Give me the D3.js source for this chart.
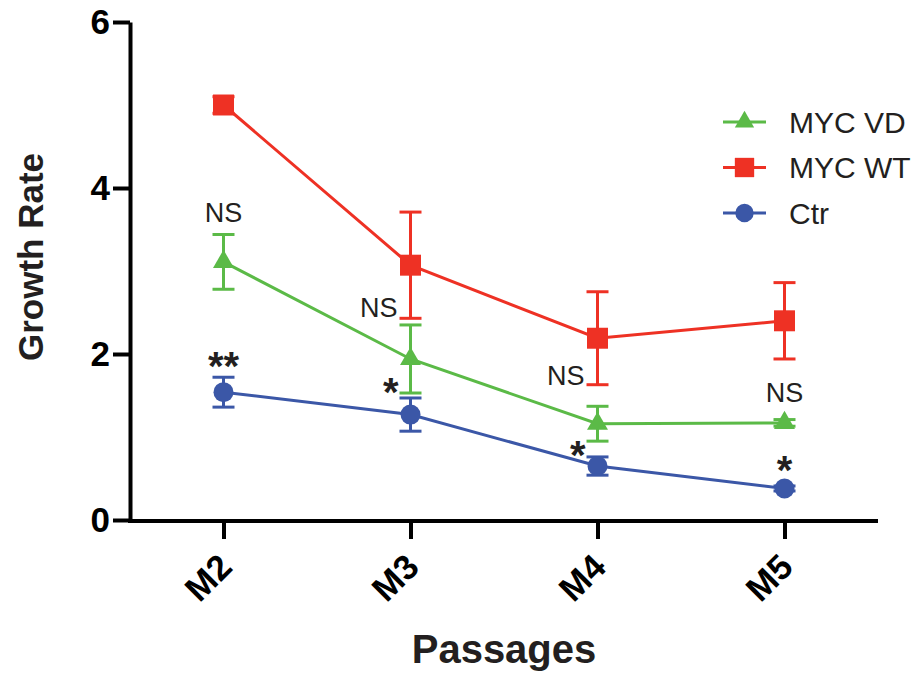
<!DOCTYPE html>
<html>
<head>
<meta charset="utf-8">
<script src="https://cdn.jsdelivr.net/npm/d3@7"></script>
<style>
  body { margin: 0; background: #fff; }
  svg text { font-family: "Liberation Sans", Arial, Helvetica, sans-serif; }
</style>
</head>
<body>
<div id="chart"></div>
<script>
const categories = ["M2", "M3", "M4", "M5"];

const seriesNames = ["MYC VD", "MYC WT", "Ctr"];
const vdMean  = [3.11, 1.94, 1.16, 1.17];
const vdErr   = [0.33, 0.41, 0.21, 0.04];
const wtMean  = [5.00, 3.07, 2.19, 2.40];
const wtErr   = [0.10, 0.64, 0.56, 0.46];
const ctrMean = [1.54, 1.27, 0.65, 0.38];
const ctrErr  = [0.18, 0.20, 0.11, 0.03];

const yTicks = [0, 2, 4, 6];

// significance marks: label, passage, height (data units), alignment to the passage
const annotLabels = ["NS", "**", "NS", "*", "NS", "*", "NS", "*"];
const annotCats   = ["M2", "M2", "M3", "M3", "M4", "M4", "M5", "M5"];
const annotValues = [3.59, 1.69, 2.45, 1.37, 1.63, 0.61, 1.42, 0.43];
const annotAlign  = ["middle", "middle", "end", "end", "end", "end", "middle", "middle"];

const width = 920, height = 675;
const colors = {"MYC VD": "#5bba47", "MYC WT": "#ee3124", "Ctr": "#3b57a7"};
const shapes = {"MYC VD": d3.symbolTriangle, "MYC WT": d3.symbolSquare, "Ctr": d3.symbolCircle};
const symSize = {"MYC VD": 190, "MYC WT": 440, "Ctr": 314};

const series = [
  {name: "Ctr", mean: ctrMean, err: ctrErr},
  {name: "MYC VD", mean: vdMean, err: vdErr},
  {name: "MYC WT", mean: wtMean, err: wtErr}
];

const svg = d3.select("#chart").append("svg")
    .attr("width", width)
    .attr("height", height);

const x = d3.scalePoint().domain(categories).range([130, 878]).padding(0.5);
const y = d3.scaleLinear().domain([0, 6]).range([520, 22]);

// axes
const yAxis = svg.append("g")
    .attr("transform", "translate(130,0)")
    .call(d3.axisLeft(y).tickValues(yTicks).tickFormat(d3.format("d"))
        .tickSize(17).tickSizeOuter(0).tickPadding(3));
yAxis.selectAll("path, line").attr("stroke", "#000").attr("stroke-width", 4);
yAxis.selectAll("text")
    .attr("fill", "#000")
    .style("font-size", "35px")
    .style("font-weight", "bold");

const xAxis = svg.append("g")
    .attr("transform", "translate(0,521)")
    .call(d3.axisBottom(x).tickSize(18).tickSizeOuter(0));
xAxis.select("path.domain").attr("d", "M128,0H878");
xAxis.selectAll("path, line").attr("stroke", "#000").attr("stroke-width", 4);
xAxis.selectAll("text")
    .attr("fill", "#000")
    .attr("y", 0).attr("dy", 0)
    .attr("text-anchor", "end")
    .attr("transform", "translate(10,48) rotate(-45)")
    .style("font-size", "35px")
    .style("font-weight", "bold");

// axis titles
svg.append("text")
    .attr("transform", "translate(43,257) rotate(-90)")
    .attr("text-anchor", "middle")
    .attr("fill", "#231f20")
    .style("font-size", "35px")
    .style("font-weight", "bold")
    .text("Growth Rate");

svg.append("text")
    .attr("x", 504).attr("y", 663)
    .attr("text-anchor", "middle")
    .attr("fill", "#231f20")
    .style("font-size", "40px")
    .style("font-weight", "bold")
    .text("Passages");

// series
const line = d3.line().x(d => x(d.cat)).y(d => y(d.v));

series.forEach(s => {
  const pts = categories.map((c, i) => ({cat: c, v: s.mean[i], e: s.err[i]}));
  const g = svg.append("g").attr("class", "series");
  const col = colors[s.name];

  g.append("path")
      .datum(pts)
      .attr("fill", "none")
      .attr("stroke", col)
      .attr("stroke-width", 3)
      .attr("d", line);

  const eb = g.selectAll("g.err").data(pts).join("g").attr("class", "err");
  eb.append("line")
      .attr("x1", d => x(d.cat)).attr("x2", d => x(d.cat))
      .attr("y1", d => y(d.v - d.e)).attr("y2", d => y(d.v + d.e))
      .attr("stroke", col).attr("stroke-width", 3);
  eb.selectAll("line.cap").data(d => [d.v - d.e, d.v + d.e].map(v => ({cat: d.cat, v: v})))
      .join("line").attr("class", "cap")
      .attr("x1", d => x(d.cat) - 11).attr("x2", d => x(d.cat) + 11)
      .attr("y1", d => y(d.v)).attr("y2", d => y(d.v))
      .attr("stroke", col).attr("stroke-width", 3);

  g.selectAll("path.marker").data(pts).join("path")
      .attr("class", "marker")
      .attr("transform", d => `translate(${x(d.cat)},${y(d.v)})`)
      .attr("d", d3.symbol().type(shapes[s.name]).size(symSize[s.name]))
      .attr("fill", col);
});

// significance labels
annotLabels.forEach((lab, i) => {
  const star = lab.indexOf("*") >= 0;
  const dx = annotAlign[i] === "end" ? (star ? -12 : -13) : 0;
  svg.append("text")
      .attr("x", x(annotCats[i]) + dx)
      .attr("y", y(annotValues[i]))
      .attr("text-anchor", annotAlign[i])
      .attr("fill", "#231f20")
      .style("font-size", star ? "40px" : "27px")
      .style("font-weight", star ? "bold" : "normal")
      .text(lab);
});

// legend
const legend = svg.append("g").attr("transform", "translate(723,122)");
seriesNames.forEach((name, i) => {
  const row = legend.append("g").attr("transform", `translate(0,${i * 45.5})`);
  row.append("line")
      .attr("x1", 0).attr("x2", 43)
      .attr("stroke", colors[name]).attr("stroke-width", 3);
  row.append("path")
      .attr("transform", "translate(21.5,0)")
      .attr("d", d3.symbol().type(shapes[name]).size(symSize[name] * 0.85))
      .attr("fill", colors[name]);
  row.append("text")
      .attr("x", 66).attr("dy", "0.35em")
      .attr("fill", "#231f20")
      .style("font-size", "30px")
      .text(name);
});
</script>
</body>
</html>
